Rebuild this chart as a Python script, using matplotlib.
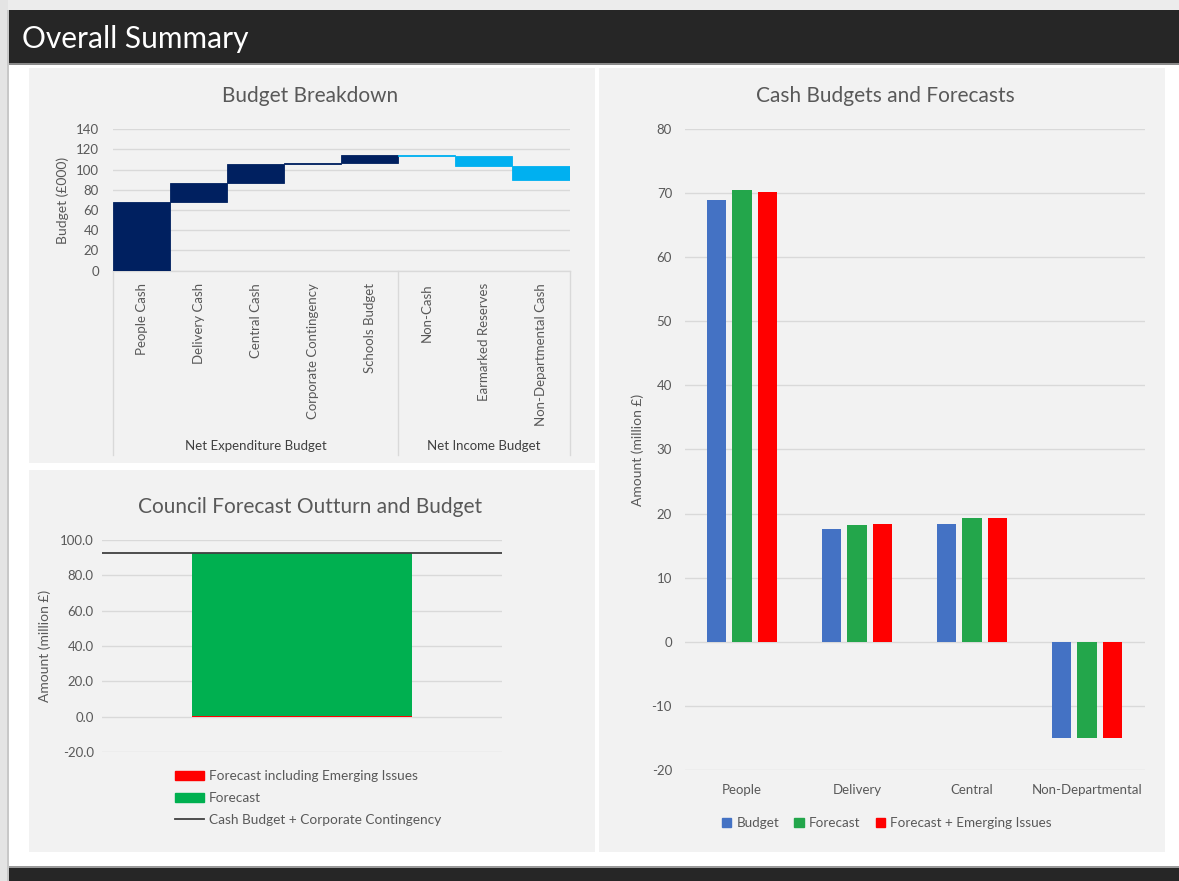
import matplotlib
matplotlib.use("Agg")
import matplotlib.pyplot as plt
from matplotlib.patches import Rectangle, Patch
from matplotlib.lines import Line2D
import numpy as np

plt.rcParams['font.family'] = ['Lato', 'DejaVu Sans']
plt.rcParams['axes.unicode_minus'] = False

# ---------------- data ----------------
wf_categories = ["People Cash", "Delivery Cash", "Central Cash", "Corporate Contingency",
                 "Schools Budget", "Non-Cash", "Earmarked Reserves", "Non-Departmental Cash"]
wf_changes = [68.3, 18.5, 18.5, 1.8, 7.1, -0.7, -10.3, -13.8]
wf_groups = ["Net Expenditure Budget", "Net Income Budget"]
wf_group_sizes = [5, 3]
wf_yticks = [0, 20, 40, 60, 80, 100, 120, 140]

outturn_emerging = [0.6]
outturn_forecast = [91.8]
outturn_budget_line = 92.7
outturn_yticks = [-20.0, 0.0, 20.0, 40.0, 60.0, 80.0, 100.0]

cash_categories = ["People", "Delivery", "Central", "Non-Departmental"]
cash_budget = [68.9, 17.6, 18.4, -15.0]
cash_forecast = [70.5, 18.2, 19.3, -15.0]
cash_forecast_ei = [70.2, 18.4, 19.3, -15.0]
cash_yticks = [-20, -10, 0, 10, 20, 30, 40, 50, 60, 70, 80]

# ---------------- layout helpers ----------------
W, H = 1179, 881
fig = plt.figure(figsize=(W / 100, H / 100), dpi=100, facecolor="white")


def rect(x0, y0, x1, y1):
    return [x0 / W, 1 - y1 / H, (x1 - x0) / W, (y1 - y0) / H]


def block(x0, y0, x1, y1, color):
    fig.patches.append(Rectangle((x0 / W, 1 - y1 / H), (x1 - x0) / W, (y1 - y0) / H,
                                 transform=fig.transFigure, facecolor=color,
                                 edgecolor="none", zorder=-10))


# frame
block(0, 0, W, 10, "#ececec")
block(0, 0, 8, H, "#e4e4e4")
block(7, 10, 9, H, "#c8c8c8")
block(9, 10, W, 63, "#262626")
block(9, 63, W, 65, "#8a8a8a")
block(9, 866, W, 868, "#9a9a9a")
block(9, 868, W, H, "#262626")
# panels
PANEL = "#f2f2f2"
block(29, 68, 595, 463, PANEL)
block(29, 470, 595, 852, PANEL)
block(599, 68, 1165, 852, PANEL)

fig.text(22 / W, 1 - 39 / H, "Overall Summary", color="white", fontsize=21.5,
         va="center", ha="left")

TXT = "#595959"
GRID = "#d9d9d9"


def style(ax):
    ax.set_facecolor("none")
    for s in ax.spines.values():
        s.set_visible(False)
    ax.tick_params(length=0, colors=TXT, labelsize=9.5)
    ax.grid(axis="y", color=GRID, linewidth=1)
    ax.set_axisbelow(True)


def title(text, xc, yc):
    fig.text(xc / W, 1 - yc / H, text, color=TXT, fontsize=15, ha="center", va="center")


# ---------------- Budget Breakdown (waterfall) ----------------
ax1 = fig.add_axes(rect(113, 129.3, 569.5, 270.7))
style(ax1)
n = len(wf_categories)
x = np.arange(n)
ends = np.cumsum(wf_changes)
starts = ends - np.array(wf_changes)
bottoms = np.minimum(starts, ends)
heights = np.abs(np.array(wf_changes))
n_exp = wf_group_sizes[0]
colors = ["#002060"] * n_exp + ["#00b0f0"] * (n - n_exp)
ax1.bar(x, heights, bottom=bottoms, width=1.0, color=colors,
        edgecolor=colors, linewidth=0.6, zorder=3)
ax1.set_xlim(-0.5, n - 0.5)
ax1.set_ylim(0, 140)
ax1.set_yticks(wf_yticks)
ax1.set_xticks(x)
ax1.set_xticklabels(wf_categories, rotation=90, va="top", ha="center")
ax1.tick_params(axis="x", pad=9, labelsize=9.5)
ax1.tick_params(axis="y", pad=10)
title("Budget Breakdown", 310, 96)
ax1.set_ylabel("Budget (£000)", color=TXT, fontsize=10)
ax1.yaxis.set_label_coords((69 - 113) / 456.5, 0.5)
# multi-level category separators and group labels
trans = ax1.get_xaxis_transform()
depth = -(455 - 270.7) / 141.4
bounds = [-0.5]
for size in wf_group_sizes:
    bounds.append(bounds[-1] + size)
for b in bounds:
    ax1.plot([b, b], [0, depth], transform=trans, color=GRID, lw=1, clip_on=False)
ax1.plot([-0.5, n - 0.5], [0, 0], transform=trans, color=GRID, lw=1, clip_on=False)
gl_y = -(446 - 270.7) / 141.4
for i, g in enumerate(wf_groups):
    ax1.text((bounds[i] + bounds[i + 1]) / 2, gl_y, g, transform=trans,
             ha="center", va="center", fontsize=9.5, color="#404040")

# ---------------- Council Forecast Outturn and Budget ----------------
ax2 = fig.add_axes(rect(102, 540, 502, 752))
style(ax2)
ax2.bar([0], outturn_emerging, width=0.55, color="#ff0000", zorder=3,
        label="Forecast including Emerging Issues")
ax2.bar([0], outturn_forecast, bottom=outturn_emerging, width=0.55,
        color="#00b050", zorder=3, label="Forecast")
ax2.axhline(outturn_budget_line, color="#404040", lw=1.3, zorder=4,
            label="Cash Budget + Corporate Contingency")
ax2.set_xlim(-0.5, 0.5)
ax2.set_ylim(-20, 100)
ax2.set_yticks(outturn_yticks)
ax2.set_yticklabels([f"{v:.1f}" for v in outturn_yticks])
ax2.set_xticks([])
ax2.tick_params(axis="y", pad=6)
title("Council Forecast Outturn and Budget", 310, 507)
ax2.set_ylabel("Amount (million £)", color=TXT, fontsize=10)
ax2.yaxis.set_label_coords((51 - 102) / 400, 0.5)
h2 = [Patch(color="#ff0000"), Patch(color="#00b050"), Line2D([], [], color="#404040", lw=1.3)]
l2 = ["Forecast including Emerging Issues", "Forecast", "Cash Budget + Corporate Contingency"]
fig.legend(h2, l2, loc="upper left", bbox_to_anchor=(163 / W, 1 - 758 / H),
           frameon=False, fontsize=9.8, labelcolor=TXT, handlelength=2.1,
           handleheight=0.65, handletextpad=0.35, labelspacing=0.72)

# ---------------- Cash Budgets and Forecasts ----------------
ax3 = fig.add_axes(rect(684.5, 129, 1144.5, 770))
style(ax3)
xc = np.arange(len(cash_categories))
bw = 0.171
off = 0.222
ax3.bar(xc - off, cash_budget, width=bw, color="#4472c4", zorder=3, label="Budget")
ax3.bar(xc, cash_forecast, width=bw, color="#23a64b", zorder=3, label="Forecast")
ax3.bar(xc + off, cash_forecast_ei, width=bw, color="#ff0000", zorder=3,
        label="Forecast + Emerging Issues")
ax3.set_xlim(-0.5, len(cash_categories) - 0.5)
ax3.set_ylim(-20, 80)
ax3.set_yticks(cash_yticks)
ax3.set_xticks(xc)
ax3.set_xticklabels(cash_categories)
ax3.tick_params(axis="x", pad=10)
ax3.tick_params(axis="y", pad=9)
title("Cash Budgets and Forecasts", 885, 96)
ax3.set_ylabel("Amount (million £)", color=TXT, fontsize=10)
ax3.yaxis.set_label_coords((644 - 684.5) / 460, 0.5)
h3 = [Patch(color="#4472c4"), Patch(color="#23a64b"), Patch(color="#ff0000")]
l3 = ["Budget", "Forecast", "Forecast + Emerging Issues"]
fig.legend(h3, l3, loc="center", bbox_to_anchor=(887 / W, 1 - 823 / H), ncol=3,
           frameon=False, fontsize=9.7, labelcolor=TXT, handlelength=0.7,
           handleheight=0.7, handletextpad=0.4, columnspacing=1.1)

fig.savefig("out.png", dpi=100, facecolor=fig.get_facecolor())
